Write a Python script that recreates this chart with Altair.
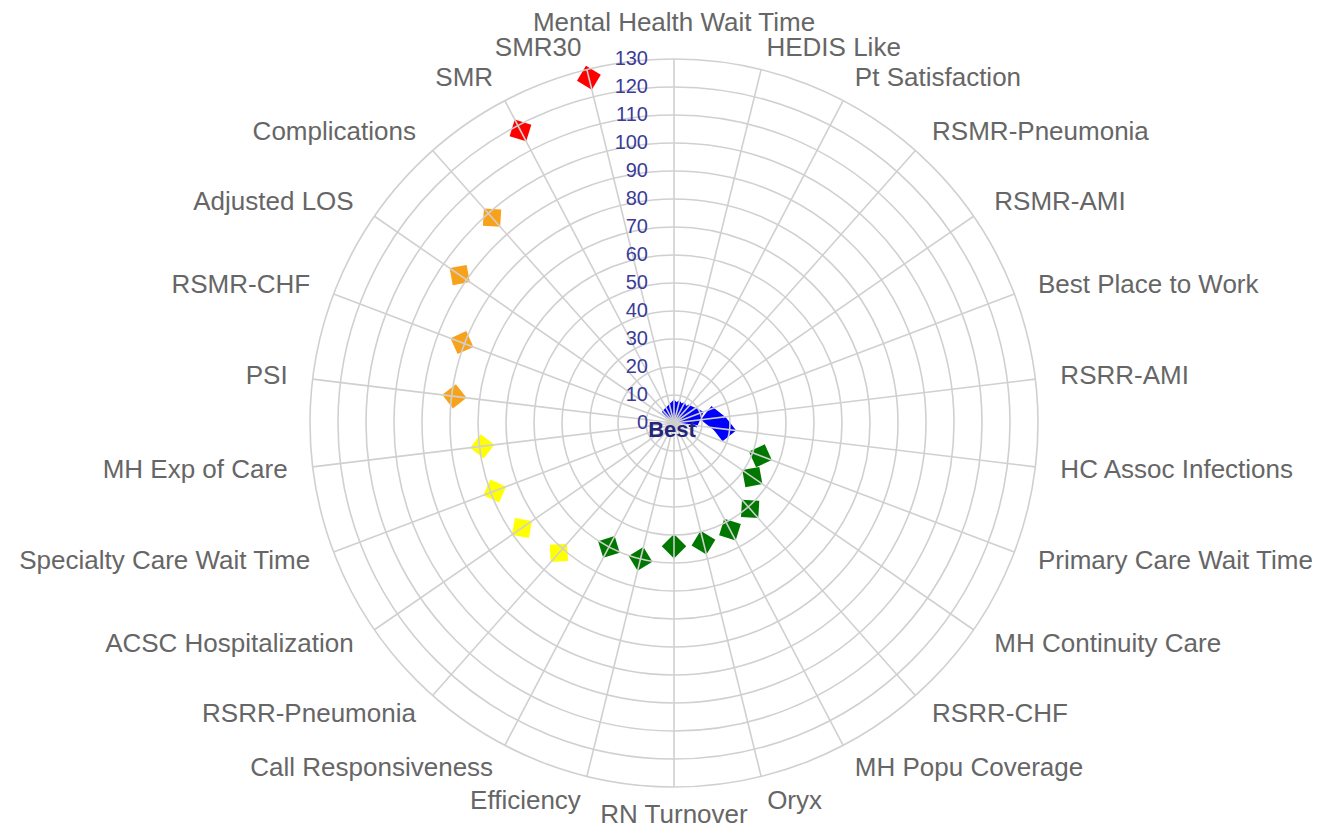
import math
import altair as alt
import pandas as pd

# ---- data ----
categories = [
    "Mental Health Wait Time", "HEDIS Like", "Pt Satisfaction", "RSMR-Pneumonia",
    "RSMR-AMI", "Best Place to Work", "RSRR-AMI", "HC Assoc Infections",
    "Primary Care Wait Time", "MH Continuity Care", "RSRR-CHF", "MH Popu Coverage",
    "Oryx", "RN Turnover", "Efficiency", "Call Responsiveness", "RSRR-Pneumonia",
    "ACSC Hospitalization", "Specialty Care Wait Time", "MH Exp of Care", "PSI",
    "RSMR-CHF", "Adjusted LOS", "Complications", "SMR", "SMR30",
]
values = [4, 4, 4, 4, 5, 7, 14, 18,
          33, 34, 41, 43, 44, 44, 50, 50,
          62, 66, 68.5, 69,
          79, 81, 93, 98,
          118, 127]
groups = ["blue"] * 8 + ["green"] * 8 + ["yellow"] * 4 + ["orange"] * 4 + ["red"] * 2
group_names = ["blue", "green", "yellow", "orange", "red"]
group_colors = ["#0000ff", "#007800", "#ffff00", "#f8a21c", "#ff0000"]
tick_values = list(range(0, 131, 10))
ring_values = list(range(10, 131, 10))
center_label = ["Best"]

# ---- layout ----
W, H = 1260, 760
PX_PER_UNIT = 2.8
RMAX = tick_values[-1]
n = len(categories)

df = pd.DataFrame({"idx": list(range(n)), "category": categories,
                   "value": values, "group": groups})

x_scale = alt.Scale(domain=[-W / 2 / PX_PER_UNIT, W / 2 / PX_PER_UNIT], nice=False, zero=False)
y_scale = alt.Scale(domain=[-H / 2 / PX_PER_UNIT, H / 2 / PX_PER_UNIT], nice=False, zero=False)

base = alt.Chart(df).transform_calculate(
    ang=f"datum.idx * 2 * PI / {n}",
    rot=f"(datum.idx * 360 / {n} + 45) % 360",
).transform_calculate(
    px="datum.value * sin(datum.ang)",
    py="datum.value * cos(datum.ang)",
    sx=f"{RMAX} * sin(datum.ang)",
    sy=f"{RMAX} * cos(datum.ang)",
    ox="0",
    oy="0",
    lr=(f"datum.idx == 0 ? 143 : datum.idx == {n // 2} ? 140 : "
        f"(datum.idx == 1 || datum.idx == {n - 1}) ? 138 : 139"),
).transform_calculate(
    lx="datum.lr * sin(datum.ang)",
    ly="datum.lr * cos(datum.ang)",
)

X = lambda f: alt.X(f, scale=x_scale, axis=None)
Y = lambda f: alt.Y(f, scale=y_scale, axis=None)

points = base.mark_point(shape="square", filled=True, size=300, opacity=1).encode(
    x=X("px:Q"), y=Y("py:Q"),
    color=alt.Color("group:N", scale=alt.Scale(domain=group_names, range=group_colors), legend=None),
    angle=alt.Angle("rot:Q", scale=None),
)

grid_color = "#d0d0d0"
rings = alt.Chart(pd.DataFrame({"r": ring_values})).mark_arc(
    theta=0, theta2=2 * math.pi, fill="transparent", stroke=grid_color, strokeWidth=1.6
).encode(
    radius=alt.Radius("r:Q", scale=alt.Scale(type="linear", domain=[0, RMAX],
                                             range=[0, RMAX * PX_PER_UNIT], zero=True, nice=False)),
    radius2=alt.Radius2("r:Q"),
)

spokes = base.mark_rule(color=grid_color, strokeWidth=1.6).encode(
    x=X("ox:Q"), y=Y("oy:Q"), x2="sx:Q", y2="sy:Q"
)

ticks_df = pd.DataFrame({"t": tick_values})
axis_labels = alt.Chart(ticks_df).transform_calculate(zx="0").mark_text(
    align="right", baseline="middle", dx=-26, fontSize=20, color="#3b3b98", font="Liberation Sans"
).encode(x=X("zx:Q"), y=Y("t:Q"), text="t:Q")

label_style = dict(baseline="middle", fontSize=26, color="#666666", font="Liberation Sans")
lab_right = base.transform_filter(f"datum.idx > 0 && datum.idx < {n / 2}").mark_text(
    align="left", **label_style).encode(x=X("lx:Q"), y=Y("ly:Q"), text="category:N")
lab_left = base.transform_filter(f"datum.idx > {n / 2}").mark_text(
    align="right", **label_style).encode(x=X("lx:Q"), y=Y("ly:Q"), text="category:N")
lab_center = base.transform_filter(f"datum.idx == 0 || datum.idx == {n / 2}").mark_text(
    align="center", **label_style).encode(x=X("lx:Q"), y=Y("ly:Q"), text="category:N")

best = alt.Chart(pd.DataFrame({"t": center_label})).transform_calculate(zx="0", zy="0").mark_text(
    align="center", baseline="middle", dy=7, dx=-2, fontSize=22, fontWeight="bold",
    color="#25257a", font="Liberation Sans"
).encode(x=X("zx:Q"), y=Y("zy:Q"), text="t:N")

chart = alt.layer(points, rings, spokes, axis_labels, lab_right, lab_left, lab_center, best).properties(
    width=W, height=H,
    autosize=alt.AutoSizeParams(type="none"),
    padding={"left": 36, "top": 35, "right": 8, "bottom": 29},
).configure_view(stroke=None)

chart.save("out.html", embed_options={"renderer": "svg", "actions": False})
